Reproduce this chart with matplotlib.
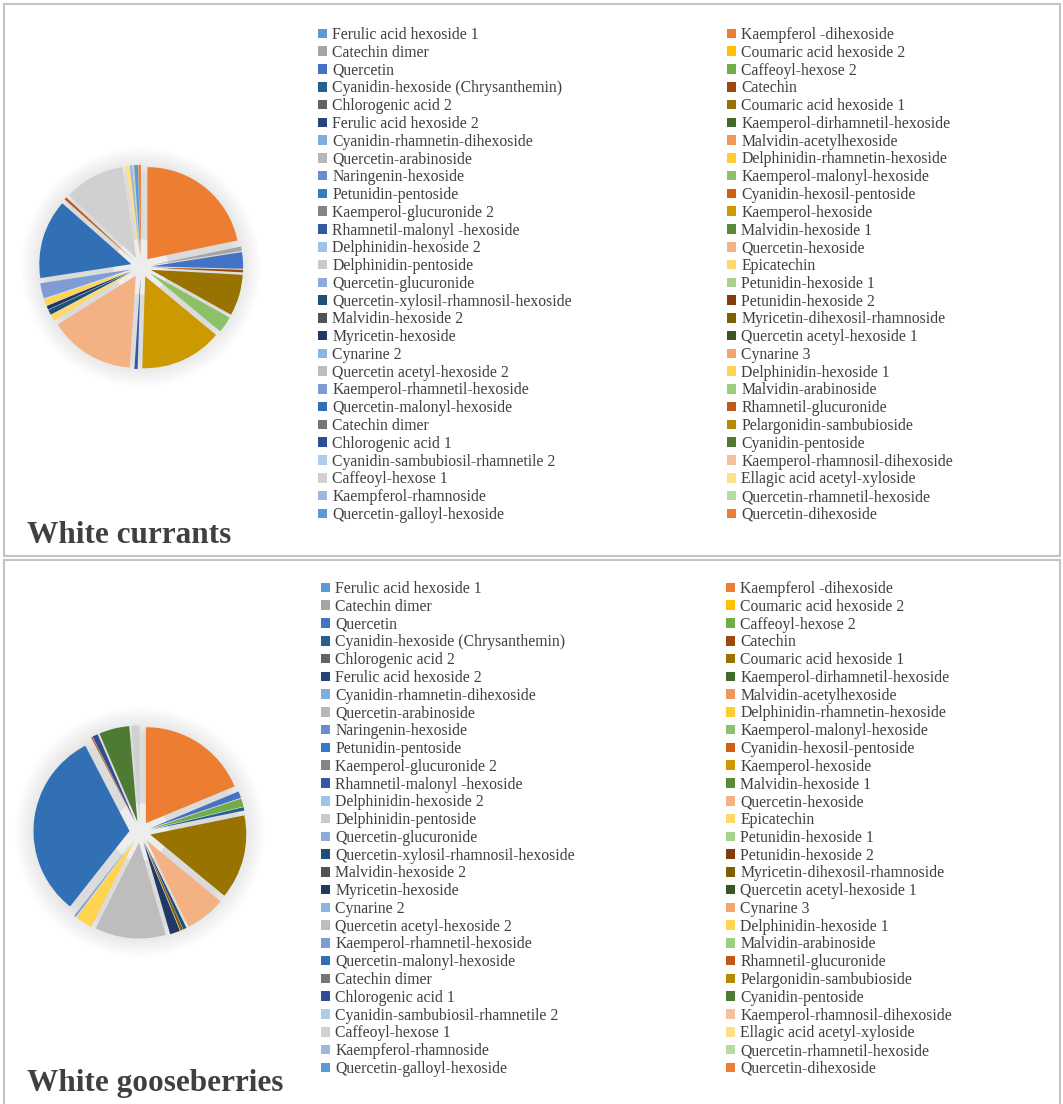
import numpy as np
import matplotlib
matplotlib.use("Agg")
import matplotlib.pyplot as plt
from matplotlib.patches import Patch, Circle, Rectangle

plt.rcParams['font.family'] = ['Liberation Serif', 'DejaVu Serif']

# legend entries, left column and right column (row by row)
labels_left = [
    "Ferulic acid hexoside 1", "Catechin dimer", "Quercetin",
    "Cyanidin-hexoside (Chrysanthemin)", "Chlorogenic acid 2", "Ferulic acid hexoside 2",
    "Cyanidin-rhamnetin-dihexoside", "Quercetin-arabinoside", "Naringenin-hexoside",
    "Petunidin-pentoside", "Kaemperol-glucuronide 2", "Rhamnetil-malonyl -hexoside",
    "Delphinidin-hexoside 2", "Delphinidin-pentoside", "Quercetin-glucuronide",
    "Quercetin-xylosil-rhamnosil-hexoside", "Malvidin-hexoside 2", "Myricetin-hexoside",
    "Cynarine 2", "Quercetin acetyl-hexoside 2", "Kaemperol-rhamnetil-hexoside",
    "Quercetin-malonyl-hexoside", "Catechin dimer", "Chlorogenic acid 1",
    "Cyanidin-sambubiosil-rhamnetile 2", "Caffeoyl-hexose 1", "Kaempferol-rhamnoside",
    "Quercetin-galloyl-hexoside",
]
labels_right = [
    "Kaempferol -dihexoside", "Coumaric acid hexoside 2", "Caffeoyl-hexose 2",
    "Catechin", "Coumaric acid hexoside 1", "Kaemperol-dirhamnetil-hexoside",
    "Malvidin-acetylhexoside", "Delphinidin-rhamnetin-hexoside", "Kaemperol-malonyl-hexoside",
    "Cyanidin-hexosil-pentoside", "Kaemperol-hexoside", "Malvidin-hexoside 1",
    "Quercetin-hexoside", "Epicatechin", "Petunidin-hexoside 1",
    "Petunidin-hexoside 2", "Myricetin-dihexosil-rhamnoside", "Quercetin acetyl-hexoside 1",
    "Cynarine 3", "Delphinidin-hexoside 1", "Malvidin-arabinoside",
    "Rhamnetil-glucuronide", "Pelargonidin-sambubioside", "Cyanidin-pentoside",
    "Kaemperol-rhamnosil-dihexoside", "Ellagic acid acetyl-xyloside", "Quercetin-rhamnetil-hexoside",
    "Quercetin-dihexoside",
]
colors_left = [
    "#5B9BD5", "#A5A5A5", "#4472C4", "#255E91", "#636363", "#264478",
    "#7CAFDD", "#B7B7B7", "#698ED0", "#327DC2", "#848484", "#335AA1",
    "#9DC3E6", "#C9C9C9", "#8FAADC", "#1F4E79", "#525252", "#203864",
    "#8AB5E1", "#BDBDBD", "#7F9CD6", "#3270B5", "#767676", "#2F4D91",
    "#ADCDEA", "#D0D0D0", "#A2B4E0", "#5B9BD5",
]
colors_right = [
    "#ED7D31", "#FFC000", "#70AD47", "#9E480E", "#997300", "#43682B",
    "#F1975A", "#FFCD33", "#8CC168", "#D26012", "#CC9A00", "#5A8A39",
    "#F4B183", "#FFD966", "#A9D18E", "#843C0C", "#7F6000", "#385723",
    "#F4A470", "#FFD54F", "#9BCF7E", "#BE5A1A", "#B38A00", "#4E7A34",
    "#F6BFA0", "#FFE08A", "#B6DBA0", "#ED7D31",
]

# approximate shares
currants_left = [0, 0.7, 2.6, 0, 0, 0, 0, 0, 0, 0, 0, 0.5, 0, 0,
                 0, 0.8, 0, 0.6, 0, 0, 2.4, 12.5, 0, 0, 0, 9.5, 0.4, 0.6]
currants_right = [19.5, 0, 0, 0.4, 6.5, 0, 0, 0, 2.6, 0, 13.0, 0, 13.5, 1.0,
                  0, 0, 0, 0, 0, 1.0, 0, 0.4, 0, 0, 0, 0.6, 0.2, 0.4]
gooseberries_left = [0, 0, 1.0, 0.5, 0, 0, 0, 0, 0, 0, 0, 0, 0, 0,
                     0, 0.5, 0, 1.5, 0, 10.5, 0.3, 28.0, 0, 0.8, 0, 1.2, 0, 0]
gooseberries_right = [16.5, 0, 1.2, 0, 12.5, 0, 0, 0, 0, 0, 0, 0, 6.0, 0,
                      0, 0, 0.4, 0, 0, 2.5, 0, 0.2, 0, 4.5, 0, 0, 0, 0]

W, H = 1063, 1104
fig = plt.figure(figsize=(W / 100, H / 100), dpi=100)
fig.patch.set_facecolor("white")


def interleave(a, b):
    out = []
    for x, y in zip(a, b):
        out.extend([x, y])
    return out


pie_colors = interleave(colors_left, colors_right)
TXT = "#404040"


def panel(values, cx, cy, unit, title, title_y, leg_top, leg_x1, leg_x2):
    half = 1.35 * unit
    ax = fig.add_axes([(cx - half) / W, 1 - (cy + half) / H, 2 * half / W, 2 * half / H])
    ax.axis("off")
    # soft shadow behind the exploded pie
    for r in np.linspace(1.3, 1.0, 12):
        ax.add_patch(Circle((0, 0), r, color="black", alpha=0.012, lw=0, zorder=0))
    ax.add_patch(Circle((0, 0), 0.3, color="white", alpha=0.5, lw=0, zorder=0.5))
    ax.pie(values, colors=pie_colors, startangle=90, counterclock=False,
           explode=[0.11] * len(values), radius=1.0,
           wedgeprops=dict(linewidth=0))
    ax.set_xlim(-1.35, 1.35)
    ax.set_ylim(-1.35, 1.35)
    ax.set_aspect("equal")

    for labs, cols, lx in [(labels_left, colors_left, leg_x1), (labels_right, colors_right, leg_x2)]:
        handles = [Patch(facecolor=c, edgecolor="none") for c in cols]
        fig.legend(handles, labs, loc="upper left",
                   bbox_to_anchor=(lx / W, 1 - leg_top / H),
                   frameon=False, fontsize=11.3, labelcolor=TXT,
                   handlelength=0.56, handleheight=0.56, handletextpad=0.35,
                   labelspacing=0.113, borderpad=0, borderaxespad=0)

    fig.text(27 / W, 1 - title_y / H, title, fontsize=22.5, fontweight="bold",
             color=TXT, va="center", ha="left")


panel(interleave(currants_left, currants_right), 141, 267, 92,
      "White currants", 536, 27, 318, 727)
panel(interleave(gooseberries_left, gooseberries_right), 140, 832, 96,
      "White gooseberries", 1083, 581, 321, 726)

# panel borders
bc = "#C4C4C4"
fig.add_artist(Rectangle((4 / W, 1 - 556 / H), 1056 / W, 552 / H,
                         transform=fig.transFigure, fill=False, ec=bc, lw=1.5))
fig.add_artist(Rectangle((4 / W, -0.01), 1056 / W, 1 - 560 / H + 0.01,
                         transform=fig.transFigure, fill=False, ec=bc, lw=1.5))

fig.savefig("out.png", dpi=100, facecolor="white")
